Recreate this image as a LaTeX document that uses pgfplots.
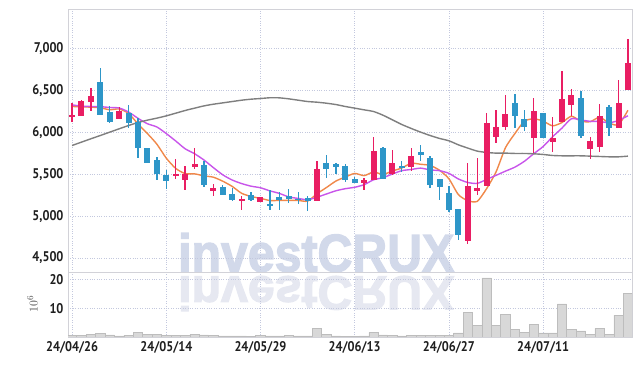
\documentclass[border=0pt]{standalone}
\usepackage{pgfplots}
\usepackage{pgfplotstable}
\usepackage{fontspec}
\pgfplotsset{compat=1.18}
\setmainfont{PT Sans}[FakeStretch=0.88]
\newfontfamily\wmfont{Liberation Sans}[FakeBold=2.5]
\definecolor{cred}{HTML}{E91E63}
\definecolor{cblue}{HTML}{2E96C8}
\definecolor{corange}{HTML}{F0884A}
\definecolor{cpurple}{HTML}{C855EA}
\definecolor{cgray}{HTML}{7F7F7F}
\definecolor{gridc}{HTML}{C3C8DE}
\definecolor{framec}{HTML}{D2D2D8}
\definecolor{wm}{HTML}{D2D9EA}
\definecolor{wmr}{HTML}{E6E8F1}
\definecolor{volf}{HTML}{D8D8D8}
\definecolor{vole}{HTML}{BDBDBD}
\definecolor{labc}{HTML}{1E1E1E}

% up candles (red): x open high low close
\pgfplotstableread{
x o h l c
0 6175 6345 6119 6206
1 6198 6385 6198 6373
2 6365 6524 6254 6429
5 6151 6298 6151 6250
11 5476 5675 5444 5496
12 5429 5595 5306 5496
13 5579 5810 5560 5615
15 5294 5381 5234 5337
18 5190 5234 5072 5202
20 5163 5226 5163 5226
26 5183 5655 5183 5564
31 5393 5453 5306 5433
32 5433 5937 5433 5778
34 5504 5786 5492 5635
36 5579 5813 5540 5710
42 4699 5631 4671 5357
43 5294 5687 5254 5333
44 5353 6226 5353 6107
45 5948 6262 5869 6063
46 6067 6448 6020 6214
49 5929 6413 5750 6254
51 5877 6179 5762 5929
52 6127 6734 6127 6397
53 6321 6512 6187 6440
55 5798 5940 5683 5897
56 5821 6337 5758 6194
58 6048 6619 6048 6345
59 6504 7107 6504 6821
}\uptab

% down candles (blue)
\pgfplotstableread{
x o h l c
3 6599 6762 6200 6206
4 6242 6313 6115 6123
6 6230 6321 6048 6107
7 6119 6167 5687 5806
8 5813 5813 5627 5627
9 5667 5702 5429 5496
10 5492 5544 5318 5413
14 5611 5651 5345 5373
16 5341 5373 5246 5254
17 5266 5333 5175 5187
19 5246 5282 5175 5187
21 5147 5313 5068 5123
22 5230 5282 5068 5194
23 5234 5321 5155 5198
24 5206 5286 5147 5190
25 5214 5234 5060 5183
27 5635 5730 5452 5564
28 5615 5631 5504 5583
29 5591 5619 5405 5433
30 5445 5465 5397 5397
33 5806 5818 5441 5441
35 5599 5651 5524 5579
37 5758 5845 5651 5722
38 5687 5710 5333 5373
39 5441 5441 5194 5346
40 5274 5353 5044 5068
41 5083 5083 4710 4770
47 6345 6452 6048 6198
48 6155 6266 6008 6067
50 6226 6226 5929 5929
54 6409 6488 5929 5960
57 6302 6321 5956 6048
}\downtab

% moving averages and volume (millions)
\pgfplotstableread{
x ma5 ma10 ma60 vol
0 6306 6325 5841 0.6
1 6302 6310 5881 0.6
2 6298 6306 5921 0.9
3 6290 6304 5960 1.3
4 6267 6294 6000 0.7
5 6276 6288 6040 0.35
6 6223 6240 6079 0.6
7 6098 6165 6115 1.6
8 5983 6100 6143 0.8
9 5857 6062 6167 0.9
10 5690 5983 6194 0.6
11 5568 5895 6226 0.6
12 5506 5802 6258 0.6
13 5503 5743 6286 0.9
14 5479 5668 6313 0.7
15 5463 5577 6333 0.5
16 5415 5491 6349 0.35
17 5353 5429 6365 0.35
18 5271 5387 6381 0.35
19 5233 5356 6393 0.3
20 5211 5337 6401 0.6
21 5185 5300 6410 0.35
22 5186 5270 6409 0.35
23 5186 5228 6397 0.6
24 5186 5210 6381 0.35
25 5178 5194 6365 0.35
26 5266 5225 6357 2.9
27 5340 5263 6345 0.8
28 5417 5301 6329 0.35
29 5465 5326 6306 0.1
30 5508 5343 6286 0.2
31 5482 5374 6266 0.35
32 5525 5432 6246 1.6
33 5496 5457 6202 0.7
34 5537 5501 6147 0.6
35 5573 5541 6091 0.35
36 5629 5555 6044 0.6
37 5617 5571 6000 0.6
38 5604 5550 5960 0.6
39 5546 5541 5925 0.6
40 5444 5509 5897 0.6
41 5256 5442 5849 1.4
42 5183 5400 5810 8.6
43 5175 5389 5774 4.1
44 5327 5437 5758 20.5
45 5526 5485 5750 4.1
46 5815 5535 5750 7.9
47 5983 5583 5746 2.7
48 6130 5652 5746 1.7
49 6159 5743 5742 4.4
50 6132 5829 5734 1.4
51 6075 5945 5722 1.4
52 6115 6049 5718 11.5
53 6190 6160 5718 2.7
54 6131 6145 5718 2.1
55 6125 6129 5714 1.0
56 6178 6127 5710 3.0
57 6108 6112 5706 1.0
58 6089 6139 5706 7.6
59 6261 6196 5714 15.2
}\matab

\begin{document}
\begin{tikzpicture}
\useasboundingbox (0,0) rectangle (642bp,366bp);
% watermark and its reflection
\node[anchor=base west, inner sep=0pt, text=wm, xscale=0.91]
  at (178bp,94.5bp) {\wmfont\fontsize{53bp}{53bp}\selectfont\bfseries investCRUX};
\node[anchor=base west, inner sep=0pt, text=wmr, xscale=0.91, yscale=-0.9]
  at (178bp,89.5bp) {\wmfont\fontsize{53bp}{53bp}\selectfont\bfseries investCRUX};

\pgfplotsset{
  every axis/.append style={
    scale only axis, width=564bp,
    xmin=-0.43, xmax=59.43,
    axis line style={framec, line width=0.8bp},
    grid=major, grid style={gridc, dotted, line width=0.7bp},
    major tick length=0pt,
    tick label style={font=\fontsize{14bp}{16bp}\selectfont\bfseries, text=labc},
    xtick={0,10,20,30,40,50},
  },
  candle/.style n args={2}{draw=none, mark=none, forget plot,
    error bars/.cd, y dir=both, y explicit, error mark=none,
    error bar style={line width=#1, draw=#2}},
}
% price panel
\begin{axis}[
  at={(68bp,94bp)}, anchor=south west, height=263bp,
  ymin=4333, ymax=7468,
  ytick={4500,5000,5500,6000,6500,7000},
  yticklabels={{4,500},{5,000},{5,500},{6,000},{6,500},{7,000}},
  xticklabels={},
  yticklabel style={xshift=-1bp},
]
\addplot[corange, line width=1.4bp, smooth, tension=0.4] table[x=x, y=ma5] {\matab};
\addplot[cpurple, line width=1.4bp, smooth, tension=0.4] table[x=x, y=ma10] {\matab};
\addplot[cgray, line width=1.4bp, smooth, tension=0.4] table[x=x, y=ma60] {\matab};
% wicks
\addplot[candle={1.3bp}{cred}]
  table[x=x, y expr={(\thisrow{h}+\thisrow{l})/2}, y error expr={max((\thisrow{h}-\thisrow{l})/2,1)}] {\uptab};
\addplot[candle={1.3bp}{cblue}]
  table[x=x, y expr={(\thisrow{h}+\thisrow{l})/2}, y error expr={max((\thisrow{h}-\thisrow{l})/2,1)}] {\downtab};
% bodies
\addplot[candle={6bp}{cred}]
  table[x=x, y expr={(\thisrow{o}+\thisrow{c})/2}, y error expr={max(abs(\thisrow{o}-\thisrow{c})/2,9)}] {\uptab};
\addplot[candle={6bp}{cblue}]
  table[x=x, y expr={(\thisrow{o}+\thisrow{c})/2}, y error expr={max(abs(\thisrow{o}-\thisrow{c})/2,9)}] {\downtab};
\end{axis}
% volume panel
\begin{axis}[
  at={(68bp,29bp)}, anchor=south west, height=65bp,
  ymin=0, ymax=22.53,
  ytick={10,20},
  yticklabels={10,20},
  xticklabels={24/04/26,24/05/14,24/05/29,24/06/13,24/06/27,24/07/11},
  yticklabel style={xshift=-1bp},
  xticklabel style={yshift=-1bp},
]
\addplot[ybar, bar width=1, fill=volf, draw=vole, line width=0.6bp] table[x=x, y=vol] {\matab};
\end{axis}
\node[rotate=90, text=labc!80] at (32.5bp,62bp) {\fontsize{13bp}{15bp}\selectfont$10^6$};
\end{tikzpicture}
\end{document}
